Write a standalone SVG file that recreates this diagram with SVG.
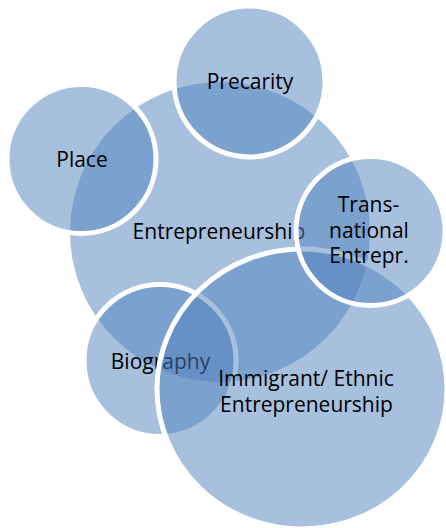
<svg xmlns="http://www.w3.org/2000/svg" width="446" height="528" viewBox="0 0 446 528">
<style>
.c{fill:#4F81BD;fill-opacity:0.5;stroke:#FFFFFF;stroke-width:5}
.b{fill:#4F81BD;fill-opacity:0.5;stroke:none}
.t{font-family:"Open Sans","DejaVu Sans",sans-serif;font-size:21px;fill:#000000;text-anchor:middle}
</style>
<rect width="446" height="528" fill="#FFFFFF"/>
<g id="connectors"/>
<g id="entrepreneurship">
<circle class="b" cx="220" cy="232" r="150"/>
<text class="t" x="219" y="239">Entrepreneurship</text>
</g>
<g id="precarity">
<circle class="c" cx="249.5" cy="81.5" r="75.5"/>
<text class="t" x="250" y="89">Precarity</text>
</g>
<g id="place">
<circle class="c" cx="81.5" cy="159" r="74.5"/>
<text class="t" x="82" y="167">Place</text>
</g>
<g id="biography">
<circle class="c" cx="160" cy="360.5" r="76"/>
<text class="t" x="160.5" y="369">Biography</text>
</g>
<g id="immigrant">
<ellipse class="c" cx="302" cy="389" rx="145" ry="140"/>
<text class="t" x="306" y="386">Immigrant/ Ethnic</text>
<text class="t" x="306.5" y="411.5">Entrepreneurship</text>
</g>
<g id="transnational">
<circle class="c" cx="370.5" cy="231" r="74.5"/>
<text class="t" x="368.5" y="212">Trans-</text>
<text class="t" x="369" y="237.5">national</text>
<text class="t" x="369" y="263">Entrepr.</text>
</g>
</svg>
